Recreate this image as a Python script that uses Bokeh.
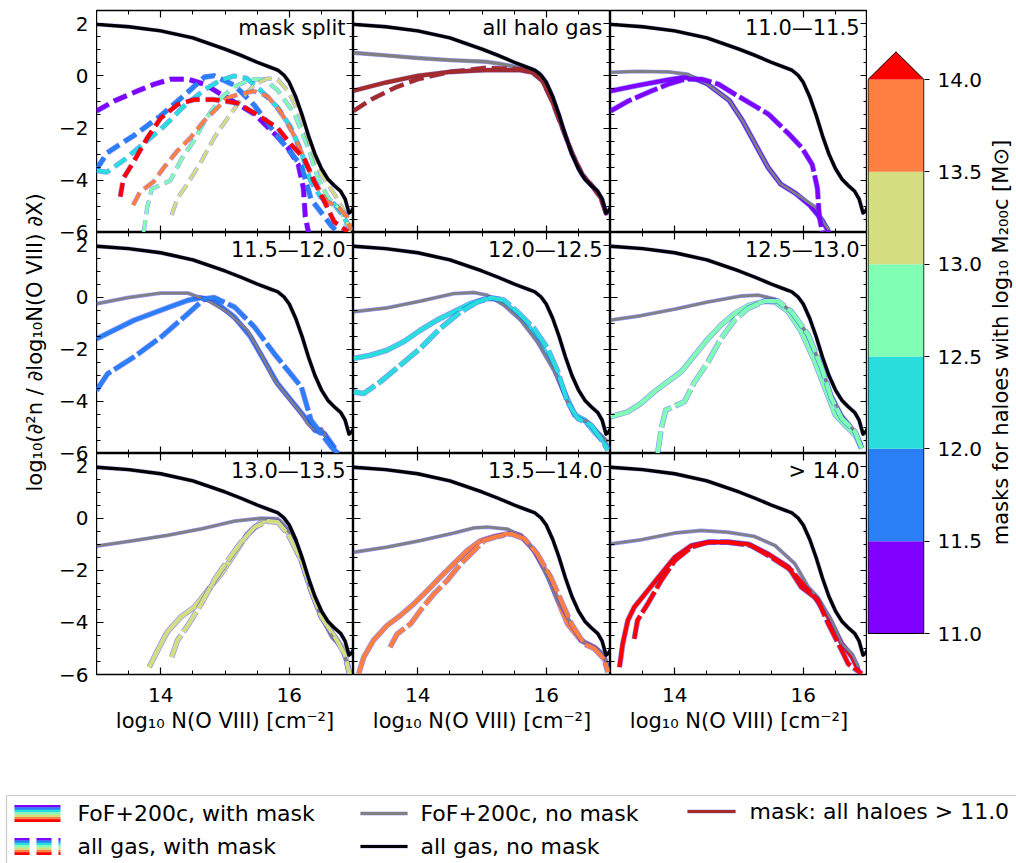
from math import pi
from bokeh.plotting import figure
from bokeh.models import Range1d, FixedTicker, LinearAxis, Label, PrintfTickFormatter
from bokeh.layouts import row, column
from bokeh.embed import file_html
from bokeh.resources import INLINE

FONT = "DejaVu Sans"

# ---------------- categories / labels ----------------
BIN_LABELS = ["11.0\u201411.5", "11.5\u201412.0", "12.0\u201412.5", "12.5\u201413.0",
              "13.0\u201413.5", "13.5\u201414.0", "> 14.0"]
BIN_COLORS = ["#8000ff", "#2a7ff6", "#2adddd", "#80ffb4", "#d4dd80", "#ff7f42", "#ff0000"]
CBAR_EDGES = [11.0, 11.5, 12.0, 12.5, 13.0, 13.5, 14.0]
X_TICKS = [14, 16]
X_MINOR = [13.5, 14.5, 15, 15.5, 16.5]
Y_RANGE = (-6.0, 2.5)
Y_TICKS = [-6, -4, -2, 0, 2]
Y_TICK_LABELS = ["\u22126", "\u22124", "\u22122", "0", "2"]
Y_MINOR = [-5.5, -5, -4.5, -3.5, -3, -2.5, -1.5, -1, -0.5, 0.5, 1, 1.5]
XLABEL = "log\u2081\u2080 N(O VIII) [cm\u207b\u00b2]"
YLABEL = "log\u2081\u2080(\u2202\u00b2n / \u2202log\u2081\u2080N(O VIII) \u2202X)"
CBLABEL = "masks for haloes with log\u2081\u2080 M\u2082\u2080\u2080c [M\u2299]"
LEGEND_TEXTS = ["FoF+200c, with mask", "all gas, with mask", "FoF+200c, no mask",
                "all gas, no mask", "mask: all haloes > 11.0"]

# ---------------- all gas, no mask (same in every panel) ----------------
N_ALL = [13.0, 13.5, 14.0, 14.5, 15.0, 15.25, 15.5, 15.7, 15.82, 15.92, 16.0, 16.1, 16.2, 16.3,
         16.4, 16.5, 16.6, 16.7, 16.8, 16.87, 16.93, 16.97, 17.0]
V_ALL = [1.97, 1.88, 1.72, 1.45, 1.02, 0.78, 0.52, 0.33, 0.22, 0.02, -0.25, -0.8, -1.5, -2.3,
         -3.0, -3.55, -3.95, -4.2, -4.42, -4.72, -5.25, -5.18, -5.05]

# ---------------- all halo gas panel ----------------
N_HALO_NOMASK = [13.0, 13.5, 14.0, 14.5, 15.05, 15.3, 15.57, 15.73, 15.89, 16.0, 16.1, 16.2, 16.3,
                 16.4, 16.5, 16.6, 16.7, 16.8, 16.87, 16.93, 16.97, 17.0]
V_HALO_NOMASK = [0.88, 0.78, 0.68, 0.6, 0.54, 0.45, 0.32, 0.26, 0.1, -0.25, -0.8, -1.5, -2.3,
                 -3.0, -3.55, -3.95, -4.2, -4.42, -4.72, -5.25, -5.18, -5.05]
N_HALO_FOF = [13.0, 13.5, 14.0, 14.5, 15.05, 15.57, 15.78, 15.94, 16.09, 16.25, 16.41, 16.56,
              16.72, 16.85, 16.93, 17.0]
V_HALO_FOF = [-0.57, -0.26, 0.0, 0.15, 0.22, 0.22, 0.13, -0.19, -0.96, -1.99, -3.01, -3.78,
              -4.23, -4.68, -5.26, -5.13]
N_HALO_ALL = [13.0, 13.28, 13.65, 14.0, 14.5, 15.05, 15.57, 15.78, 15.94, 16.09, 16.25, 16.41,
              16.56, 16.72, 16.85, 16.93, 17.0]
V_HALO_ALL = [-1.35, -0.9, -0.45, -0.13, 0.15, 0.3, 0.26, 0.19, -0.19, -0.96, -1.99, -3.01,
              -3.78, -4.23, -4.68, -5.26, -5.13]

# ---------------- per mass bin: FoF+200c no mask (gray) ----------------
N_NOMASK_0 = [13.0, 13.4, 13.9, 14.2, 14.5, 14.85, 15.05, 15.25, 15.45, 15.65, 15.88, 16.05, 16.2, 16.3, 16.4]
V_NOMASK_0 = [0.13, 0.17, 0.15, 0.06, -0.3, -0.95, -1.7, -2.6, -3.5, -4.15, -4.5, -4.8, -5.05, -5.55, -5.9]
N_NOMASK_1 = [13.0, 13.5, 14.0, 14.42, 14.73, 15.04, 15.35, 15.56, 15.77, 15.98, 16.19, 16.29, 16.4, 16.5, 16.6, 16.71]
V_NOMASK_1 = [-0.24, 0.0, 0.17, 0.17, -0.11, -0.56, -1.27, -2.17, -3.19, -3.83, -4.47, -4.86, -5.11, -5.05, -5.5, -5.9]
N_NOMASK_2 = [13.0, 13.52, 14.04, 14.56, 14.88, 15.08, 15.34, 15.6, 15.86, 16.13, 16.33, 16.49, 16.65, 16.8, 16.96]
V_NOMASK_2 = [-0.55, -0.4, -0.14, 0.15, 0.19, 0.09, -0.29, -0.87, -1.7, -2.86, -4.01, -4.65, -4.78, -5.17, -5.55]
N_NOMASK_3 = [13.0, 13.47, 14.0, 14.52, 15.04, 15.3, 15.56, 15.82, 16.08, 16.29, 16.44, 16.6, 16.81, 16.91]
V_NOMASK_3 = [-0.87, -0.7, -0.45, -0.17, 0.06, 0.09, -0.06, -0.55, -1.45, -2.73, -3.76, -4.52, -5.17, -5.68]
N_NOMASK_4 = [13.0, 13.58, 14.1, 14.63, 15.15, 15.56, 15.82, 16.03, 16.19, 16.34, 16.5, 16.66, 16.81, 16.92]
V_NOMASK_4 = [-1.06, -0.85, -0.65, -0.4, -0.1, 0.01, -0.01, -0.59, -1.49, -2.77, -3.79, -4.56, -4.95, -5.72]
N_NOMASK_5 = [13.0, 13.52, 14.04, 14.56, 14.88, 15.08, 15.4, 15.6, 15.81, 16.02, 16.18, 16.33, 16.54, 16.75, 16.9, 16.96]
V_NOMASK_5 = [-1.3, -1.1, -0.85, -0.56, -0.36, -0.33, -0.41, -0.65, -1.23, -2.26, -3.15, -3.79, -4.69, -4.95, -5.21, -5.72]
N_NOMASK_6 = [13.0, 13.47, 14.0, 14.41, 14.83, 15.24, 15.56, 15.87, 16.08, 16.23, 16.44, 16.6, 16.76, 16.86]
V_NOMASK_6 = [-0.98, -0.82, -0.56, -0.46, -0.53, -0.69, -1.04, -1.74, -2.64, -3.03, -3.92, -4.82, -5.21, -5.72]

# ---------------- per mass bin: FoF+200c with mask (solid colour) ----------------
N_FOFMASK_0 = [13.0, 13.4, 13.9, 14.15, 14.3, 14.5, 14.85, 15.05, 15.25, 15.45, 15.65, 15.88, 16.1, 16.3, 16.4]
V_FOFMASK_0 = [-0.58, -0.38, -0.15, -0.06, -0.1, -0.3, -0.95, -1.7, -2.6, -3.5, -4.15, -4.5, -4.95, -5.55, -6.0]
N_FOFMASK_1 = [13.0, 13.58, 14.1, 14.42, 14.62, 14.83, 15.15, 15.4, 15.61, 15.82, 16.03, 16.24, 16.4, 16.55, 16.71]
V_FOFMASK_1 = [-1.59, -0.88, -0.4, -0.11, -0.01, -0.14, -0.76, -1.52, -2.42, -3.32, -3.96, -4.6, -5.11, -5.24, -5.8]
N_FOFMASK_2 = [13.0, 13.26, 13.52, 13.78, 14.04, 14.3, 14.56, 14.82, 15.08, 15.24, 15.45, 15.71, 15.92,
               16.13, 16.28, 16.44, 16.6, 16.75, 16.9, 16.96]
V_FOFMASK_2 = [-2.35, -2.22, -2.03, -1.7, -1.26, -0.87, -0.55, -0.23, -0.04, -0.06, -0.42, -1.06, -1.83,
               -2.73, -3.63, -4.52, -4.72, -5.17, -5.55, -5.81]
N_FOFMASK_3 = [13.0, 13.27, 13.47, 13.68, 13.89, 14.1, 14.31, 14.52, 14.72, 14.93, 15.14, 15.4, 15.56,
               15.77, 15.97, 16.18, 16.34, 16.5, 16.65, 16.81, 16.91]
V_FOFMASK_3 = [-4.59, -4.4, -4.08, -3.63, -3.24, -2.86, -2.22, -1.58, -1.06, -0.62, -0.32, -0.14, -0.17,
               -0.55, -1.32, -2.47, -3.5, -4.52, -4.91, -5.29, -5.81]
N_FOFMASK_4 = [13.82, 13.95, 14.1, 14.31, 14.52, 14.73, 14.94, 15.15, 15.35, 15.56, 15.72, 15.88, 16.03,
               16.19, 16.34, 16.5, 16.71, 16.86, 16.94]
V_FOFMASK_4 = [-5.72, -5.08, -4.37, -3.79, -3.41, -2.77, -2.13, -1.36, -0.59, -0.14, -0.05, -0.14, -0.72,
               -1.62, -2.77, -3.79, -4.56, -5.08, -5.98]
N_FOFMASK_5 = [13.08, 13.16, 13.31, 13.52, 13.73, 13.94, 14.15, 14.35, 14.56, 14.77, 14.98, 15.19, 15.45,
               15.6, 15.81, 16.02, 16.18, 16.33, 16.54, 16.75, 16.9, 16.96]
V_FOFMASK_5 = [-5.97, -5.33, -4.69, -4.12, -3.73, -3.28, -2.77, -2.26, -1.74, -1.23, -0.85, -0.69, -0.56,
               -0.65, -1.23, -2.13, -3.15, -4.05, -4.69, -4.95, -5.33, -5.85]
N_FOFMASK_6 = [13.14, 13.19, 13.27, 13.37, 13.58, 13.79, 14.0, 14.26, 14.52, 14.83, 15.14, 15.45, 15.77,
               15.97, 16.18, 16.39, 16.6, 16.76, 16.86]
V_FOFMASK_6 = [-5.72, -4.82, -3.92, -3.41, -2.77, -2.13, -1.49, -1.04, -0.91, -0.91, -0.98, -1.36, -1.87,
               -2.64, -3.03, -3.79, -4.82, -5.33, -5.85]

# ---------------- per mass bin: all gas with mask (dashed colour) ----------------
N_ALLMASK_0 = [13.0, 13.28, 13.64, 13.9, 14.16, 14.42, 14.68, 14.94, 15.2, 15.46, 15.78, 15.98, 16.14,
               16.22, 16.25, 16.3]
V_ALLMASK_0 = [-1.35, -0.96, -0.58, -0.32, -0.13, -0.13, -0.32, -0.71, -1.09, -1.47, -2.24, -2.76, -3.4,
               -4.3, -5.4, -6.0]
N_ALLMASK_1 = [13.0, 13.17, 13.58, 14.0, 14.42, 14.68, 14.83, 15.15, 15.46, 15.77, 15.98, 16.19, 16.34,
               16.5, 16.66, 16.76]
V_ALLMASK_1 = [-3.58, -2.94, -2.29, -1.53, -0.63, -0.05, 0.0, -0.37, -1.14, -2.17, -2.81, -3.45, -4.73,
               -5.24, -5.76, -6.0]
N_ALLMASK_2 = [13.0, 13.16, 13.42, 13.73, 14.04, 14.35, 14.67, 14.93, 15.14, 15.34, 15.55, 15.81, 16.02,
               16.18, 16.33, 16.49, 16.7, 16.85, 16.96]
V_ALLMASK_2 = [-3.63, -3.69, -3.24, -2.6, -1.96, -1.19, -0.55, -0.17, -0.01, -0.1, -0.55, -1.19, -1.96,
               -2.86, -4.01, -4.65, -4.91, -5.42, -5.87]
N_ALLMASK_3 = [13.73, 13.79, 13.86, 14.15, 14.31, 14.52, 14.72, 14.93, 15.14, 15.4, 15.61, 15.82, 16.08,
               16.29, 16.44, 16.6, 16.81, 16.91]
V_ALLMASK_3 = [-6.06, -5.04, -4.33, -4.01, -3.24, -2.47, -1.58, -0.87, -0.42, -0.14, -0.14, -0.55, -1.45,
               -2.73, -3.88, -4.65, -5.17, -5.81]
N_ALLMASK_4 = [14.17, 14.26, 14.42, 14.63, 14.83, 15.04, 15.25, 15.46, 15.67, 15.82, 15.98, 16.19, 16.34,
               16.5, 16.71, 16.86, 16.94]
V_ALLMASK_4 = [-5.33, -4.69, -4.12, -3.28, -2.38, -1.62, -0.91, -0.33, -0.1, -0.14, -0.59, -1.62, -2.77,
               -3.79, -4.56, -5.21, -5.98]
N_ALLMASK_5 = [13.57, 13.68, 13.89, 14.04, 14.25, 14.46, 14.67, 14.88, 15.03, 15.24, 15.45, 15.66, 15.86,
               16.07, 16.23, 16.39, 16.59, 16.75, 16.9, 16.96]
V_ALLMASK_5 = [-4.95, -4.44, -4.05, -3.54, -2.9, -2.38, -1.74, -1.23, -0.85, -0.69, -0.59, -0.78, -1.36,
               -2.26, -3.15, -4.05, -4.82, -5.01, -5.4, -5.91]
N_ALLMASK_6 = [13.37, 13.42, 13.58, 13.79, 14.0, 14.26, 14.52, 14.83, 15.19, 15.5, 15.82, 16.03, 16.23,
               16.39, 16.6, 16.7, 16.91]
V_ALLMASK_6 = [-4.63, -3.92, -3.28, -2.38, -1.62, -1.1, -0.91, -0.91, -1.04, -1.49, -2.0, -2.64, -3.15,
               -4.05, -5.08, -5.59, -5.97]

NOMASK = [(N_NOMASK_0, V_NOMASK_0), (N_NOMASK_1, V_NOMASK_1), (N_NOMASK_2, V_NOMASK_2),
          (N_NOMASK_3, V_NOMASK_3), (N_NOMASK_4, V_NOMASK_4), (N_NOMASK_5, V_NOMASK_5),
          (N_NOMASK_6, V_NOMASK_6)]
FOFMASK = [(N_FOFMASK_0, V_FOFMASK_0), (N_FOFMASK_1, V_FOFMASK_1), (N_FOFMASK_2, V_FOFMASK_2),
           (N_FOFMASK_3, V_FOFMASK_3), (N_FOFMASK_4, V_FOFMASK_4), (N_FOFMASK_5, V_FOFMASK_5),
           (N_FOFMASK_6, V_FOFMASK_6)]
ALLMASK = [(N_ALLMASK_0, V_ALLMASK_0), (N_ALLMASK_1, V_ALLMASK_1), (N_ALLMASK_2, V_ALLMASK_2),
           (N_ALLMASK_3, V_ALLMASK_3), (N_ALLMASK_4, V_ALLMASK_4), (N_ALLMASK_5, V_ALLMASK_5),
           (N_ALLMASK_6, V_ALLMASK_6)]

# ---------------- styles / layout ----------------
SPLIT_WIDTHS = [4.5, 4.5, 4.0, 3.2, 3.0, 3.6, 4.2]
SHORT_DASH = "14 6"
LONG_DASH = "24 4"
EDGE = "#2a2aff"

FW = 257
FH = [222, 221, 221]
STRIP_W = 96                   # y tick labels + y axis label strip (page starts at x=0)
TOP_B, BOT_B = 10, 71
H_MAIN = TOP_B + sum(FH) + BOT_B
FRAME_BOTTOM = TOP_B + sum(FH)  # page y of bottom of lowest panel row
CB_PIX_TOP, CB_PIX_BOT = 79, 633   # page y of colour-bar values 14.0 and 11.0


def edged(p, x, y, color, width, dash="solid", edge_w=1.2, edge_a=0.5):
    p.line(x, y, line_color=EDGE, line_alpha=edge_a, line_width=width + edge_w,
           line_dash=dash, line_join="round")
    p.line(x, y, line_color=color, line_width=width, line_dash=dash, line_join="round")


def bare(p):
    p.xgrid.visible = False
    p.ygrid.visible = False


def panel(r, c, title):
    tb = TOP_B if r == 0 else 0
    bb = BOT_B if r == 2 else 0
    p = figure(width=FW, height=tb + FH[r] + bb,
               x_range=Range1d(13, 17), y_range=Range1d(*Y_RANGE),
               output_backend="svg", toolbar_location=None,
               x_axis_location=None, y_axis_location=None,
               min_border_left=0, min_border_right=0, min_border_top=tb, min_border_bottom=bb)
    bare(p)
    p.outline_line_color = "black"
    p.outline_line_width = 1.4
    for side in ["below", "above", "left", "right"]:
        horiz = side in ("below", "above")
        ticker = FixedTicker(ticks=X_TICKS, minor_ticks=X_MINOR) if horiz else \
            FixedTicker(ticks=Y_TICKS, minor_ticks=Y_MINOR)
        ax = LinearAxis(ticker=ticker, axis_line_color=None,
                        major_tick_in=7, major_tick_out=0, minor_tick_in=4, minor_tick_out=0,
                        major_tick_line_color="black", minor_tick_line_color="black",
                        major_tick_line_width=1.2, minor_tick_line_width=1.0,
                        major_label_standoff=0, major_label_text_color=None)
        if side == "below" and r == 2:
            ax.major_label_text_color = "black"
            ax.major_label_text_font = FONT
            ax.major_label_text_font_size = "20px"
            ax.major_label_standoff = 13
            ax.axis_label = XLABEL
            ax.axis_label_text_color = "black"
            ax.axis_label_text_font = FONT
            ax.axis_label_text_font_size = "21px"
            ax.axis_label_text_font_style = "normal"
            ax.axis_label_standoff = 4
        p.add_layout(ax, side)
    p.add_layout(Label(x=p.x_range.end, y=p.y_range.end, x_offset=-8, y_offset=-5,
                       text=title, text_align="right", text_baseline="top",
                       text_font=FONT, text_font_size="21px", text_color="black"))
    return p


titles = ["mask split", "all halo gas"] + BIN_LABELS
figs = []
for k, t in enumerate(titles):
    r, c = divmod(k, 3)
    p = panel(r, c, t)
    if k == 0:
        for i in range(7):
            n, v = ALLMASK[i]
            edged(p, n, v, BIN_COLORS[i], SPLIT_WIDTHS[i], SHORT_DASH, edge_w=1.2, edge_a=0.45)
    elif k == 1:
        edged(p, N_HALO_NOMASK, V_HALO_NOMASK, "gray", 3.2, edge_w=1.2, edge_a=0.45)
        edged(p, N_HALO_FOF, V_HALO_FOF, "brown", 4.2, edge_w=1.0, edge_a=0.3)
        edged(p, N_HALO_ALL, V_HALO_ALL, "brown", 4.2, "15 6", edge_w=1.0, edge_a=0.3)
    else:
        b = k - 2
        edged(p, *FOFMASK[b], BIN_COLORS[b], 4.2, edge_w=1.4, edge_a=0.5)
        edged(p, *NOMASK[b], "gray", 2.6, edge_w=1.3, edge_a=0.5)
        edged(p, *ALLMASK[b], BIN_COLORS[b], 4.2, LONG_DASH, edge_w=1.4, edge_a=0.5)
    edged(p, N_ALL, V_ALL, "black", 3.4, edge_w=1.0, edge_a=0.3)
    figs.append(p)

grid = column(*[row(*figs[3 * r:3 * r + 3]) for r in range(3)])

# ---------------- left strip: shared y tick labels of the three rows + y label ----------------
span = Y_RANGE[1] - Y_RANGE[0]
stack_ticks, stack_labels = [], {}
for rr in range(3):
    shift = (2 - rr) * span
    for t, s in zip(Y_TICKS, Y_TICK_LABELS):
        stack_ticks.append(t + shift)
        stack_labels[t + shift] = s
yl = figure(width=STRIP_W, height=H_MAIN, x_range=Range1d(0, 1),
            y_range=Range1d(Y_RANGE[0], Y_RANGE[0] + 3 * span),
            output_backend="svg", toolbar_location=None, x_axis_location=None, y_axis_location=None,
            min_border_left=STRIP_W - 1, min_border_right=0, min_border_top=TOP_B, min_border_bottom=BOT_B)
bare(yl)
yl.outline_line_color = None
yax = LinearAxis(ticker=FixedTicker(ticks=stack_ticks), major_label_overrides=stack_labels,
                 axis_line_color=None, major_tick_in=0, major_tick_out=0, minor_tick_in=0, minor_tick_out=0,
                 major_label_standoff=7, major_label_text_font=FONT, major_label_text_font_size="20px",
                 major_label_text_color="black",
                 axis_label=YLABEL, axis_label_text_font=FONT, axis_label_text_font_size="21px",
                 axis_label_text_color="black",
                 axis_label_text_font_style="normal", axis_label_standoff=9)
yl.add_layout(yax, "left")

# ---------------- colour bar (same borders as the panels, range set so that 11..14 sits at its place) ----------------
EXT = 0.05 * (CBAR_EDGES[-1] - CBAR_EDGES[0])
px_per_unit = (CB_PIX_BOT - CB_PIX_TOP) / (CBAR_EDGES[-1] - CBAR_EDGES[0])
cb_lo = CBAR_EDGES[0] - (FRAME_BOTTOM - CB_PIX_BOT) / px_per_unit
cb_hi = CBAR_EDGES[-1] + (CB_PIX_TOP - TOP_B) / px_per_unit
cb = figure(width=118, height=H_MAIN, x_range=Range1d(-0.01, 1.01), y_range=Range1d(cb_lo, cb_hi),
            output_backend="svg", toolbar_location=None, x_axis_location=None, y_axis_location=None,
            min_border_left=0, min_border_right=58, min_border_top=TOP_B, min_border_bottom=BOT_B)
bare(cb)
cb.outline_line_color = None
cb.quad(left=0, right=1, bottom=CBAR_EDGES[:-1], top=CBAR_EDGES[1:],
        fill_color=BIN_COLORS[:-1], line_color=None)
cb.patch([0, 0.5, 1], [CBAR_EDGES[-1], CBAR_EDGES[-1] + EXT, CBAR_EDGES[-1]],
         fill_color=BIN_COLORS[-1], line_color=None)
cb.line([0, 0, 0.5, 1, 1, 0],
        [CBAR_EDGES[0], CBAR_EDGES[-1], CBAR_EDGES[-1] + EXT, CBAR_EDGES[-1], CBAR_EDGES[0], CBAR_EDGES[0]],
        line_color="black", line_width=1)
cax = LinearAxis(ticker=FixedTicker(ticks=CBAR_EDGES), formatter=PrintfTickFormatter(format="%.1f"),
                 axis_line_color=None, major_tick_out=5, major_tick_in=0, minor_tick_out=0, minor_tick_in=0,
                 major_tick_line_color="black", major_label_standoff=8, major_label_text_color="black",
                 major_label_text_font=FONT, major_label_text_font_size="20px")
cb.add_layout(cax, "right")

CL_W = 1016 - STRIP_W - 3 * FW - 118
cl = figure(width=CL_W, height=H_MAIN, x_range=Range1d(0, 1), y_range=Range1d(0, 1),
            output_backend="svg", toolbar_location=None, x_axis_location=None, y_axis_location=None,
            min_border_left=0, min_border_right=0, min_border_top=TOP_B, min_border_bottom=BOT_B)
bare(cl)
cl.outline_line_color = None
cl.add_layout(Label(x=0.5, y=0.5, text=CBLABEL, angle=pi / 2, text_align="center",
                    text_baseline="middle", text_font=FONT, text_font_size="21px", text_color="black"))

# ---------------- legend ----------------
LG_W, LG_H = 1016, 863 - H_MAIN
ROW1_Y, ROW2_Y = 50, 17
lg = figure(width=LG_W, height=LG_H, x_range=Range1d(0, LG_W), y_range=Range1d(0, LG_H),
            output_backend="svg", toolbar_location=None, x_axis_location=None, y_axis_location=None,
            min_border=0)
bare(lg)
lg.outline_line_color = None
lg.line([6, 6, LG_W], [0, 68, 68], line_color="#cccccc", line_width=1.2)
for i, col in enumerate(BIN_COLORS):
    lg.line([14, 60], [ROW1_Y + 2.4 * (3 - i)] * 2, line_color=col, line_width=2.7)
    lg.line([14, 60], [ROW2_Y + 2.4 * (3 - i)] * 2, line_color=col, line_width=2.7, line_dash="15 7")
edged(lg, [360, 407], [ROW1_Y] * 2, "gray", 3.2, edge_w=1.0, edge_a=0.35)
edged(lg, [360, 407], [ROW2_Y] * 2, "black", 3.2, edge_w=1.0, edge_a=0.3)
edged(lg, [687, 735], [ROW1_Y + 2] * 2, "brown", 3.2, edge_w=1.0, edge_a=0.3)
for x, y, t in [(77, ROW1_Y, LEGEND_TEXTS[0]), (77, ROW2_Y, LEGEND_TEXTS[1]),
                (420, ROW1_Y, LEGEND_TEXTS[2]), (420, ROW2_Y, LEGEND_TEXTS[3]),
                (749, ROW1_Y + 2, LEGEND_TEXTS[4])]:
    lg.add_layout(Label(x=x, y=y, text=t, text_baseline="middle", text_align="left",
                        text_font=FONT, text_font_size="22px", text_color="black"))

layout = column(row(yl, grid, cb, cl), lg)
open("out.html", "w").write(file_html(layout, INLINE))
